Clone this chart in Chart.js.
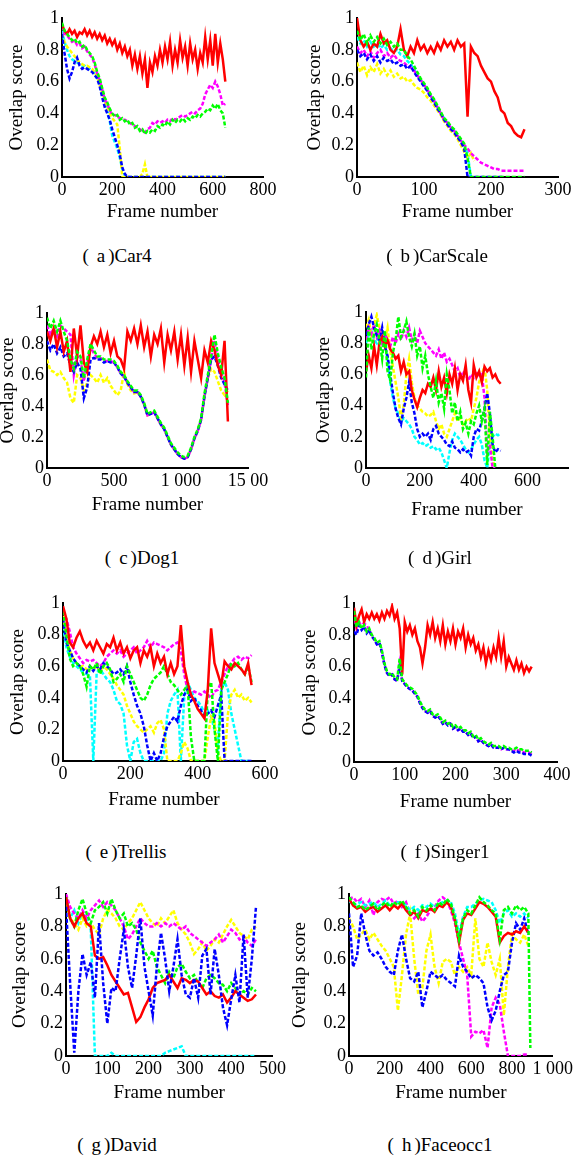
<!DOCTYPE html>
<html>
<head>
<meta charset="utf-8">
<title>Overlap score</title>
<script src="https://cdn.jsdelivr.net/npm/chart.js@4.4.1/dist/chart.umd.min.js"></script>
<style>
  html, body { margin: 0; padding: 0; background: #fff; }
  body { position: relative; width: 575px; height: 1157px; overflow: hidden; }
  canvas { position: absolute; }
  .cap { position: absolute; transform: translate(-50%, -50%); white-space: nowrap;
         font-family: 'Liberation Serif', 'DejaVu Serif', serif; font-size: 19px; color: #000; }
  .cap span { margin: 0 3px 0 8px; }
</style>
</head>
<body>
<canvas id="car4" width="288" height="240"></canvas>
<canvas id="carScale" width="288" height="240"></canvas>
<canvas id="dog1" width="288" height="240"></canvas>
<canvas id="girl" width="288" height="240"></canvas>
<canvas id="trellis" width="288" height="240"></canvas>
<canvas id="singer1" width="288" height="240"></canvas>
<canvas id="david" width="288" height="240"></canvas>
<canvas id="faceocc1" width="288" height="240"></canvas>

<div class="cap" style="left:117px;top:256px">(<span>a</span>)Car4</div>
<div class="cap" style="left:437px;top:256px">(<span>b</span>)CarScale</div>
<div class="cap" style="left:142px;top:558px">(<span>c</span>)Dog1</div>
<div class="cap" style="left:440px;top:558px">(<span>d</span>)Girl</div>
<div class="cap" style="left:126px;top:852px">(<span>e</span>)Trellis</div>
<div class="cap" style="left:445px;top:852px">(<span>f</span>)Singer1</div>
<div class="cap" style="left:117px;top:1145px">(<span>g</span>)David</div>
<div class="cap" style="left:440px;top:1145px">(<span>h</span>)Faceocc1</div>

<script>
// y axis, shared by all panels
const yTicks = [0, 0.2, 0.4, 0.6, 0.8, 1];
const yLabels = ['0', '0.2', '0.4', '0.6', '0.8', '1'];

// (a) Car4
const car4XTicks = [0, 200, 400, 600, 800];
const car4XLabels = ['0', '200', '400', '600', '800'];
const car4Frames = [0,10,20,30,40,50,60,70,80,90, 100,110,120,130,140,150,160,170,180,190,
  200,210,220,230,240,250,260,270,280,290, 300,310,320,330,340,350,360,370,380,390,
  400,410,420,430,440,450,460,470,480,490, 500,510,520,530,540,550,560,570,580,590,
  600,610,620,630,640,650];
const car4Red = [.96,.92,.90,.93,.90,.92,.88,.91,.90,.93, .89,.92,.88,.91,.87,.90,.86,.89,.84,.87,
  .83,.86,.80,.84,.78,.82,.76,.80,.70,.77, .68,.76,.65,.74,.56,.72,.66,.76,.70,.80,
  .72,.82,.74,.85,.70,.80,.72,.86,.75,.82, .70,.84,.74,.80,.68,.78,.72,.88,.74,.86,
  .70,.90,.72,.84,.74,.60];
const car4Green = [.97,.92,.90,.88,.86,.87,.84,.85,.82,.83, .80,.78,.76,.72,.66,.62,.56,.50,.47,.43,
  .40,.38,.39,.36,.37,.35,.36,.33,.34,.31, .32,.29,.30,.27,.29,.28,.30,.29,.32,.31,
  .33,.32,.35,.33,.36,.34,.36,.35,.37,.35, .37,.36,.38,.37,.39,.38,.40,.41,.43,.42,
  .45,.43,.46,.42,.40,.31];
const car4Magenta = [.95,.90,.89,.87,.85,.86,.83,.84,.81,.82, .79,.77,.75,.71,.65,.61,.55,.49,.46,.42,
  .39,.39,.38,.37,.36,.36,.35,.34,.33,.32, .31,.30,.29,.28,.30,.31,.34,.33,.35,.34,
  .35,.34,.36,.35,.37,.36,.37,.38,.39,.38, .39,.40,.41,.40,.42,.43,.46,.52,.55,.58,
  .56,.60,.57,.52,.45,.46];
const car4Blue = [.90,.78,.68,.62,.66,.72,.75,.70,.68,.69, .68,.67,.66,.64,.62,.57,.50,.44,.40,.36,
  .30,.25,.20,.14,.06,.02,0,0,0,0, 0,0,0,0,0,0,0,0,0,0,
  0,0,0,0,0,0,0,0,0,0, 0,0,0,0,0,0,0,0,0,0,
  0,0,0,0,0,0];
const car4Cyan = [.92,.85,.80,.76,.74,.73,.72,.71,.70,.70, .69,.68,.67,.65,.62,.58,.52,.46,.42,.35,
  .26,.22,.18,.12,.05,.01,0,0,0,0, 0,0,0,0,0,0,0,0,0,0,
  0,0,0,0,0,0,0,0,0,0, 0,0,0,0,0,0,0,0,0,0,
  0,0,0,0,0,0];
const car4Yellow = [.90,.85,.82,.80,.78,.76,.74,.72,.71,.70, .70,.69,.68,.66,.63,.58,.53,.48,.44,.40,
  .37,.35,.33,.18,0,0,0,0,0,0, 0,0,.02,.08,0,0,0,0,0,0,
  0,0,0,0,0,0,0,0,0,0, 0,0,0,0,0,0,0,0,0,0,
  0,0,0,0,0,0];

// (b) CarScale
const carScaleXTicks = [0, 100, 200, 300];
const carScaleXLabels = ['0', '100', '200', '300'];
const carScaleFrames = [0,5,10,15,20,25,30,35,40,45, 50,55,60,65,70,75,80,85,90,95,
  100,105,110,115,120,125,130,135,140,145, 150,155,160,165,170,175,180,185,190,195,
  200,205,210,215,220,225,230,235,240,245, 250];
const carScaleRed = [1.0,.86,.82,.85,.80,.84,.82,.90,.84,.86, .80,.78,.82,.93,.80,.76,.82,.78,.86,.80,
  .83,.78,.82,.78,.84,.80,.86,.82,.85,.80, .86,.82,.84,.38,.82,.78,.76,.70,.66,.62,
  .60,.54,.50,.42,.40,.34,.32,.28,.26,.25, .30];
const carScaleGreen = [.92,.86,.90,.84,.89,.85,.88,.84,.87,.83, .85,.82,.84,.80,.80,.76,.74,.70,.66,.62,
  .59,.56,.52,.49,.45,.41,.37,.35,.32,.30, .27,.24,.21,.12,0,0,0,0,0,0,
  0,0,0,0,0,0,0,0,0,0, 0];
const carScaleMagenta = [.82,.78,.80,.76,.79,.75,.78,.80,.76,.78, .75,.77,.74,.73,.72,.70,.69,.67,.64,.61,
  .58,.55,.51,.48,.44,.40,.36,.34,.31,.29, .26,.23,.20,.18,.15,.13,.11,.09,.08,.07,
  .06,.05,.05,.04,.04,.04,.04,.04,.04,.04, .04];
const carScaleBlue = [.80,.76,.78,.74,.77,.73,.76,.72,.75,.73, .74,.71,.72,.70,.71,.68,.70,.66,.63,.60,
  .57,.54,.50,.47,.43,.40,.36,.33,.30,.28, .25,.22,.18,0,0,0,0,0,0,0,
  0,0,0,0,0,null,null,null,null,null, null];
const carScaleYellow = [.72,.66,.70,.64,.69,.66,.71,.65,.68,.64, .67,.63,.65,.62,.63,.60,.61,.58,.56,.55,
  .53,.50,.48,.45,.42,.39,.35,.32,.29,.27, .24,.20,.16,.12,.15,.10,null,null,null,null,
  null,null,null,null,null,null,null,null,null,null, null];
const carScaleCyan = [.88,.84,.86,.82,.85,.82,.84,.81,.83,.80, .81,.79,.80,.77,.76,.73,.71,.68,.64,.61,
  .58,.55,.51,.48,.44,.40,.37,.34,.31,.29, .26,.23,.20,.15,0,null,null,null,null,null,
  null,null,null,null,null,null,null,null,null,null, null];

// (c) Dog1
const dog1XTicks = [0, 500, 1000, 1500];
const dog1XLabels = ['0', '500', '1 000', '15 00'];
const dog1Frames = [0,25,50,75,100,125,150,175,200,225, 250,275,300,325,350,375,400,425,450,475,
  500,525,550,575,600,625,650,675,700,725, 750,775,800,825,850,875,900,925,950,975,
  1000,1025,1050,1075,1100,1125,1150,1175,1200,1225, 1250,1275,1300,1325,1350];
const dog1Red = [.88,.82,.90,.78,.88,.75,.82,.62,.90,.72, .92,.68,.62,.78,.85,.80,.88,.78,.86,.74,
  .82,.72,.70,.64,.88,.82,.90,.80,.92,.78, .88,.72,.86,.80,.90,.68,.86,.76,.88,.70,
  .86,.66,.84,.62,.82,.70,.58,.76,.68,.82, .76,.66,.60,.82,.30];
const dog1Green = [.97,.90,.95,.88,.95,.88,.82,.70,.64,.75, .72,.58,.70,.80,.76,.72,.72,.70,.70,.70,
  .69,.66,.62,.60,.56,.53,.50,.50,.47,.42, .35,.36,.37,.33,.29,.26,.21,.16,.13,.10,
  .08,.07,.08,.13,.20,.25,.32,.48,.60,.72, .86,.74,.65,.58,.42];
const dog1Magenta = [.92,.86,.90,.85,.92,.90,.88,.86,.60,.72, .70,.56,.68,.78,.74,.71,.71,.69,.69,.69,
  .68,.65,.61,.59,.55,.52,.49,.49,.46,.41, .34,.35,.36,.32,.28,.25,.20,.15,.12,.09,
  .07,.06,.07,.12,.19,.24,.31,.46,.58,.70, .82,.70,.62,.55,.40];
const dog1Blue = [.82,.76,.80,.74,.78,.72,.74,.66,.62,.68, .64,.45,.52,.70,.71,.70,.70,.68,.69,.68,
  .68,.65,.61,.59,.55,.52,.49,.49,.46,.41, .34,.35,.36,.32,.28,.25,.20,.15,.12,.09,
  .07,.06,.07,.12,.19,.24,.31,.46,.58,.70, .72,.66,.58,.54,.50];
const dog1Yellow = [.70,.63,.62,.60,.62,.58,.55,.45,.42,.60, .58,.50,.55,.60,.58,.55,.60,.55,.58,.53,
  .50,.47,.50,.62,.54,.50,.48,.49,.46,.41, .34,.35,.36,.32,.28,.25,.20,.15,.12,.09,
  .07,.06,.07,.12,.19,.24,.31,.46,.58,.64, .62,.56,.50,.47,.50];

// (d) Girl
const girlXTicks = [0, 200, 400, 600];
const girlXLabels = ['0', '200', '400', '600'];
const girlFrames = [0,10,20,30,40,50,60,70,80,90, 100,110,120,130,140,150,160,170,180,190,
  200,210,220,230,240,250,260,270,280,290, 300,310,320,330,340,350,360,370,380,390,
  400,410,420,430,440,450,460,470,480,490, 500];
const girlRed = [.62,.72,.64,.78,.66,.80,.84,.78,.82,.76, .74,.70,.72,.62,.68,.60,.62,.50,.44,.39,
  .45,.50,.48,.54,.52,.58,.50,.62,.52,.58, .48,.60,.54,.64,.50,.60,.56,.66,.50,.42,
  .66,.58,.62,.55,.65,.62,.64,.58,.60,.56, .54];
const girlGreen = [.58,.90,.76,.86,.92,.82,.70,.88,.62,.56, .74,.82,.97,.84,.88,.94,.84,.78,.86,.72,
  .78,.64,.72,.60,.52,.45,.56,.42,.48,.38, .60,.50,.35,.42,.30,.36,.25,.29,.22,.30,
  .28,.35,.40,.30,.38,.02,.36,.20,0,null, null];
const girlMagenta = [.82,.90,.86,.92,.84,.88,.80,.86,.82,.78, .84,.80,.86,.82,.88,.84,.90,.82,.86,.80,
  .88,.84,.80,.78,.76,.74,.72,.76,.70,.74, .68,.70,.66,.62,.64,.58,.62,.60,.56,.60,
  .58,.62,.58,.60,.45,.10,.15,0,0,null, null];
const girlBlue = [.85,.92,.97,.90,.85,.82,.90,.78,.72,.60, .48,.38,.32,.28,.38,.45,.55,.42,.35,.25,
  .20,.22,.20,.22,.18,.25,.27,.22,.20,.18, .15,.14,.17,.13,.12,.10,.12,.10,.11,.08,
  .20,.25,.24,.30,.38,.48,.35,.15,.10,.12, .11];
const girlCyan = [.80,.85,.88,.82,.80,.85,.80,.78,.70,.55, .45,.38,.35,.30,.32,.30,.28,.25,.20,.18,
  .15,.16,.14,.15,.13,.14,.12,.13,.10,.05, 0,.10,.18,.22,.20,.18,.15,.12,.10,.12,
  .15,.18,.20,.15,.05,0,.15,.20,.22,.21, .22];
const girlYellow = [.90,.95,.85,.92,.98,.90,.85,.82,.90,.75, .65,.55,.45,.32,.40,.60,.70,.55,.45,.40,
  .38,.36,.35,.33,.34,.36,.30,.25,.28,.22, .20,.25,.30,.35,.30,.32,.28,.30,.32,.30,
  .38,.45,.55,.60,.65,.50,.20,.05,0,null, null];

// (e) Trellis
const trellisXTicks = [0, 200, 400, 600];
const trellisXLabels = ['0', '200', '400', '600'];
const trellisFrames = [0,10,20,30,40,50,60,70,80,90, 100,110,120,130,140,150,160,170,180,190,
  200,210,220,230,240,250,260,270,280,290, 300,310,320,330,340,350,360,370,380,390,
  400,410,420,430,440,450,460,470,480,490, 500,510,520,530,540,550,560];
const trellisRed = [.98,.90,.75,.72,.78,.82,.76,.72,.75,.70, .76,.72,.68,.74,.72,.78,.70,.75,.68,.72,
  .65,.70,.72,.62,.70,.66,.72,.60,.68,.62, .66,.55,.62,.55,.60,.86,.60,.50,.42,.38,
  .33,.30,.27,.45,.84,.62,.55,.48,.63,.60, .58,.62,.60,.58,.55,.62,.48];
const trellisMagenta = [.95,.90,.82,.72,.68,.65,.62,.64,.63,.64, .62,.60,.62,.66,.68,.70,.68,.70,.66,.68,
  .70,.72,.68,.70,.72,.76,.72,.75,.74,.73, .72,.70,.72,.74,.75,.70,.55,.45,.42,.44,
  .43,.42,.44,.42,.40,.44,.45,.50,.55,.60, .62,.65,.66,.64,.66,.65,.67];
const trellisGreen = [.95,.80,.65,.60,.62,.60,.55,.47,.60,.58, .62,.55,.60,.62,.58,.50,.52,.55,.50,.60,
  .55,.50,.45,.40,.38,.42,.48,.52,.54,.56, .60,.55,.50,.48,.45,.42,.45,.48,.15,0,
  0,0,0,.45,.50,.20,0,.45,.50,.55, .62,.60,.62,.58,.55,.60,.50];
const trellisBlue = [.90,.75,.70,.65,.62,.60,.58,.56,.60,.57, .60,.58,.62,.60,.58,.55,.56,.58,.55,.60,
  .50,.42,.35,.30,.22,.10,0,.05,0,.05, .15,.22,.25,.28,.25,.35,.42,.45,.38,.40,
  .35,.32,.28,.30,.32,.28,.35,.42,0,0, 0,0,0,0,0,0,0];
const trellisYellow = [.92,.78,.70,.65,.62,.60,.60,.58,.60,.58, .60,.57,.60,.58,.55,.52,.48,.45,.42,.35,
  .30,.25,.22,.20,.18,.20,.22,.18,.24,.26, .20,0,0,0,0,.05,.12,.08,0,0,
  0,0,0,.15,.28,.25,.05,0,0,.30, .42,.45,.40,.42,.38,.40,.37];
const trellisCyan = [.85,.72,.66,.62,.60,.58,.56,.55,.54,0, .56,.58,.55,.52,.50,.45,.38,.36,.30,.10,
  0,.12,.14,.05,0,0,0,0,0,0, .05,.30,.38,.42,.45,0,.40,.50,.45,.40,
  .38,.35,.30,.32,.28,.20,.10,.45,.50,.45, .30,.20,.10,0,0,0,0];

// (f) Singer1
const singerXTicks = [0, 100, 200, 300, 400];
const singerXLabels = ['0', '100', '200', '300', '400'];
const singerFrames = [0,5,10,15,20,25,30,35,40,45, 50,55,60,65,70,75,80,85,90,95,
  100,105,110,115,120,125,130,135,140,145, 150,155,160,165,170,175,180,185,190,195,
  200,205,210,215,220,225,230,235,240,245, 250,255,260,265,270,275,280,285,290,295,
  300,305,310,315,320,325,330,335,340,345, 350];
const singerRed = [.97,.86,.92,.96,.88,.93,.90,.94,.90,.93, .89,.94,.90,.95,.92,.98,.90,.94,.84,.55,
  .88,.82,.86,.80,.84,.76,.72,.62,.72,.86, .80,.88,.78,.84,.76,.86,.74,.82,.76,.84,
  .74,.82,.78,.84,.72,.80,.74,.78,.70,.74, .66,.72,.62,.70,.64,.72,.66,.78,.66,.76,
  .60,.66,.62,.58,.64,.58,.62,.56,.60,.57, .60];
const singerGreen = [.95,.85,.88,.84,.86,.82,.84,.80,.78,.75, .76,.70,.62,.57,.55,.56,.53,.52,.65,.52,
  .50,.48,.47,.46,.44,.42,.38,.35,.33,.32, .33,.30,.29,.30,.28,.25,.26,.24,.25,.22,
  .23,.21,.22,.20,.20,.18,.19,.16,.17,.14, .15,.13,.12,.11,.12,.10,.10,.10,.09,.10,
  .09,.09,.08,.08,.09,.08,.08,.07,.07,.07, .06];
const singerMagenta = [.93,.84,.87,.88,.87,.86,.83,.79,.77,.74, .75,.69,.61,.56,.54,.55,.52,.51,.62,.51,
  .49,.47,.46,.45,.43,.41,.37,.34,.32,.31, .32,.29,.28,.29,.27,.24,.25,.23,.24,.21,
  .22,.20,.21,.19,.19,.17,.18,.15,.16,.13, .14,.12,.11,.10,.11,.09,.09,.09,.08,.09,
  .08,.08,.07,.07,.08,.07,.07,.06,.06,.06, .05];
const singerBlue = [.82,.80,.86,.83,.85,.81,.83,.79,.77,.74, .75,.69,.61,.56,.54,.55,.52,.51,.60,.51,
  .49,.47,.46,.45,.43,.41,.37,.34,.32,.31, .32,.29,.28,.29,.27,.24,.25,.23,.24,.21,
  .22,.20,.21,.19,.19,.17,.18,.15,.16,.13, .14,.12,.11,.10,.11,.09,.09,.09,.08,.09,
  .08,.08,.07,.06,.07,.06,.06,.05,.05,.05, .04];

// (g) David
const davidXTicks = [0, 100, 200, 300, 400, 500];
const davidXLabels = ['0', '100', '200', '300', '400', '500'];
const davidFrames = [0,10,20,30,40,50,60,70,80,90, 100,110,120,130,140,150,160,170,180,190,
  200,210,220,230,240,250,260,270,280,290, 300,310,320,330,340,350,360,370,380,390,
  400,410,420,430,440,450,460];
const davidRed = [.98,.85,.80,.85,.88,.82,.80,.62,.60,.61, .56,.50,.46,.42,.38,.39,.30,.21,.24,.30,
  .35,.42,.45,.46,.47,.50,.46,.42,.48,.47, .45,.47,.46,.42,.38,.40,.37,.36,.38,.33,
  .36,.40,.38,.36,.34,.35,.38];
const davidGreen = [.98,.85,.80,.90,.97,.88,.82,.90,.92,.95, .88,.97,.90,.85,.88,.80,.82,.78,.70,.65,
  .60,.65,.55,.50,.45,.52,.48,.55,.57,.52, .48,.50,.45,.42,.48,.50,.48,.45,.44,.40,
  .45,.42,.38,.40,.38,.42,.40];
const davidBlue = [.92,.45,.02,.40,.63,.50,.58,.36,.82,.45, .20,.42,.40,.60,.78,.55,.42,.62,.85,.55,
  .40,.25,.55,.76,.60,.40,.55,.72,.50,.38, .36,.48,.36,.62,.66,.38,.66,.50,.30,.19,
  .35,.50,.33,.75,.36,.60,.92];
const davidMagenta = [1.0,.92,.88,.85,.90,.85,.90,.93,.96,.92, .95,.93,.90,.85,.80,.72,.75,.80,.85,.82,
  .80,.80,.82,.80,.82,.80,.82,.80,.78,.80, .76,.74,.72,.70,.68,.70,.72,.75,.70,.74,
  .78,.76,.72,.74,.70,.68,.72];
const davidYellow = [.95,.85,.82,.78,.85,.80,.82,.78,.75,.85, .90,.88,.85,.80,.78,.82,.85,.90,.95,.90,
  .85,.82,.80,.85,.82,.86,.90,.82,.78,.75, .70,.63,.66,.70,.65,.68,.72,.70,.75,.80,
  .84,.80,.76,.74,.72,.78,.80];
const davidCyan = [.98,.85,.90,.82,.88,.85,.78,0,0,0, 0,.02,0,0,0,0,0,0,0,0,
  0,0,0,0,.02,.03,.04,.05,.06,0, 0,0,0,0,0,0,0,0,0,0,
  0,0,0,0,0,0,0];

// (h) Faceocc1
const faceXTicks = [0, 200, 400, 600, 800, 1000];
const faceXLabels = ['0', '200', '400', '600', '800', '1 000'];
const faceFrames = [0,20,40,60,80,100,120,140,160,180, 200,220,240,260,280,300,320,340,360,380,
  400,420,440,460,480,500,520,540,560,580, 600,620,640,660,680,700,720,740,760,780,
  800,820,840,860,880,890];
const faceGreen = [.98,.95,.92,.93,.90,.92,.94,.90,.93,.95, .92,.95,.93,.96,.92,.88,.90,.86,.92,.90,
  .93,.90,.95,.93,.97,.94,.85,.72,.85,.90, .88,.93,.98,.95,.93,.90,.88,.72,.90,.92,
  .88,.93,.90,.92,.88,.05];
const faceRed = [.97,.93,.91,.92,.89,.91,.92,.89,.91,.93, .90,.93,.91,.94,.90,.87,.89,.85,.90,.89,
  .91,.89,.93,.92,.95,.92,.84,.70,.84,.88, .87,.91,.95,.94,.92,.89,.86,.70,.74,.76,
  .75,.77,.76,.80,.76,null];
const faceBlue = [.88,.55,.62,.88,.75,.65,.62,.64,.60,.55, .52,.50,.65,.75,.60,.48,.46,.52,.30,.40,
  .52,.50,.48,.50,.47,.45,.43,.62,.55,.52, .48,.50,.48,.45,.30,.22,.28,.40,.50,.52,
  .70,.82,.78,.85,.75,null];
const faceMagenta = [.97,.98,.95,.97,.92,.96,.87,.95,.97,.96, .98,.94,.96,.92,.95,.88,.85,.88,.83,.86,
  .90,.92,.96,.98,.96,.90,.82,.70,.60,.50, .12,.15,.14,.16,.05,.30,.36,.32,.15,0,
  0,0,0,.01,.01,null];
const faceYellow = [.85,.80,.72,.75,.78,.72,.76,.72,.68,.65, .60,.55,.28,.50,.75,.88,.60,.38,.42,.65,
  .75,.55,.45,.58,.60,.58,.50,.55,.52,.55, .50,.85,.60,.55,.70,.58,.50,.60,.25,.55,
  .75,.72,.70,.75,.68,null];
const faceCyan = [.96,.93,.94,.95,.93,.94,.95,.92,.94,.96, .93,.94,.95,.94,.93,.90,.92,.90,.93,.92,
  .94,.92,.94,.95,.96,.95,.88,.75,.86,.92, .92,.94,.96,.97,.96,.95,.90,.82,.88,.90,
  .86,.88,.86,.88,.85,null];

const COLORS = { red: '#ff0000', green: '#00ff00', magenta: '#ff00ff', blue: '#0000ff', yellow: '#ffff00', cyan: '#00ffff' };
const FONT = "'Liberation Serif', 'DejaVu Serif', serif";
const TITLE_SIZE = 19, TICK_SIZE = 18;
const LH = TITLE_SIZE * 1.2;
const CW = 288, CH = 240;

function line(frames, vals, color) {
  const solid = color === COLORS.red;
  return {
    data: frames.map((f, i) => ({ x: f, y: vals[i] })),
    borderColor: color,
    borderWidth: 2.5,
    borderDash: solid ? [] : [4, 2],
    pointRadius: 0,
    tension: 0,
    fill: false
  };
}

// box: canvas left/top, chart area edges, axis title centres (all page px)
function drawPlot(id, frames, lines, xMax, xTicks, xLabels, box) {
  const cv = document.getElementById(id);
  cv.style.left = box.cl + 'px';
  cv.style.top = box.ct + 'px';
  const padL = Math.max(0, box.yt - box.cl - LH / 2);
  const xBottom = box.xt - box.ct + LH / 2;
  new Chart(cv, {
    type: 'line',
    data: { datasets: lines.map(l => line(frames, l[0], l[1])) },
    options: {
      responsive: false,
      animation: false,
      events: [],
      layout: { padding: { left: padL, top: box.at - box.ct, right: box.cl + CW - box.ar, bottom: CH - xBottom } },
      plugins: { legend: { display: false }, tooltip: { enabled: false } },
      scales: {
        x: {
          type: 'linear', min: 0, max: xMax,
          grid: { display: false, drawTicks: false },
          border: { color: '#000', width: 2 },
          afterBuildTicks: s => { s.ticks = xTicks.map(v => ({ value: v })); },
          afterFit: s => { s.height = xBottom - (box.ab - box.ct); },
          ticks: { padding: 2, color: '#000', maxRotation: 0, autoSkip: false,
                   font: { family: FONT, size: TICK_SIZE }, callback: (v, i) => xLabels[i] },
          title: { display: true, text: 'Frame number', color: '#000', padding: 0,
                   font: { family: FONT, size: TITLE_SIZE } }
        },
        y: {
          type: 'linear', min: 0, max: 1,
          grid: { display: false, drawTicks: false },
          border: { color: '#000', width: 2 },
          afterBuildTicks: s => { s.ticks = yTicks.map(v => ({ value: v })); },
          afterFit: s => { s.width = box.al - box.cl - padL; },
          ticks: { padding: 3, color: '#000', autoSkip: false,
                   font: { family: FONT, size: TICK_SIZE }, callback: (v, i) => yLabels[i] },
          title: { display: true, text: 'Overlap score', color: '#000', padding: 0,
                   font: { family: FONT, size: TITLE_SIZE } }
        }
      }
    }
  });
}

// dataset order: first one is drawn on top
drawPlot('car4', car4Frames,
  [[car4Green, COLORS.green], [car4Red, COLORS.red], [car4Blue, COLORS.blue],
   [car4Magenta, COLORS.magenta], [car4Yellow, COLORS.yellow], [car4Cyan, COLORS.cyan]],
  800, car4XTicks, car4XLabels,
  { cl: 0, ct: 0, al: 62, at: 18, ar: 263, ab: 177, yt: 17, xt: 212 });

drawPlot('carScale', carScaleFrames,
  [[carScaleGreen, COLORS.green], [carScaleRed, COLORS.red], [carScaleBlue, COLORS.blue],
   [carScaleMagenta, COLORS.magenta], [carScaleYellow, COLORS.yellow], [carScaleCyan, COLORS.cyan]],
  300, carScaleXTicks, carScaleXLabels,
  { cl: 287, ct: 0, al: 357, at: 18, ar: 558, ab: 177, yt: 315, xt: 212 });

drawPlot('dog1', dog1Frames,
  [[dog1Green, COLORS.green], [dog1Red, COLORS.red], [dog1Blue, COLORS.blue],
   [dog1Magenta, COLORS.magenta], [dog1Yellow, COLORS.yellow]],
  1500, dog1XTicks, dog1XLabels,
  { cl: -4, ct: 290, al: 47, at: 313, ar: 248, ab: 468, yt: 8, xt: 505 });

drawPlot('girl', girlFrames,
  [[girlGreen, COLORS.green], [girlRed, COLORS.red], [girlBlue, COLORS.blue],
   [girlMagenta, COLORS.magenta], [girlYellow, COLORS.yellow], [girlCyan, COLORS.cyan]],
  750, girlXTicks, girlXLabels,
  { cl: 287, ct: 290, al: 366, at: 312, ar: 568, ab: 468, yt: 324, xt: 510 });

drawPlot('trellis', trellisFrames,
  [[trellisRed, COLORS.red], [trellisGreen, COLORS.green], [trellisBlue, COLORS.blue],
   [trellisMagenta, COLORS.magenta], [trellisYellow, COLORS.yellow], [trellisCyan, COLORS.cyan]],
  600, trellisXTicks, trellisXLabels,
  { cl: 0, ct: 575, al: 63, at: 603, ar: 265, ab: 761, yt: 18, xt: 800 });

drawPlot('singer1', singerFrames,
  [[singerGreen, COLORS.green], [singerRed, COLORS.red], [singerBlue, COLORS.blue],
   [singerMagenta, COLORS.magenta]],
  400, singerXTicks, singerXLabels,
  { cl: 287, ct: 575, al: 354, at: 603, ar: 557, ab: 762, yt: 310, xt: 802 });

drawPlot('david', davidFrames,
  [[davidBlue, COLORS.blue], [davidRed, COLORS.red], [davidGreen, COLORS.green],
   [davidMagenta, COLORS.magenta], [davidYellow, COLORS.yellow], [davidCyan, COLORS.cyan]],
  500, davidXTicks, davidXLabels,
  { cl: 0, ct: 865, al: 66, at: 894, ar: 273, ab: 1056, yt: 20, xt: 1093 });

drawPlot('faceocc1', faceFrames,
  [[faceGreen, COLORS.green], [faceRed, COLORS.red], [faceCyan, COLORS.cyan],
   [faceBlue, COLORS.blue], [faceMagenta, COLORS.magenta], [faceYellow, COLORS.yellow]],
  1000, faceXTicks, faceXLabels,
  { cl: 287, ct: 865, al: 349, at: 894, ar: 558, ab: 1056, yt: 300, xt: 1093 });
</script>
</body>
</html>
